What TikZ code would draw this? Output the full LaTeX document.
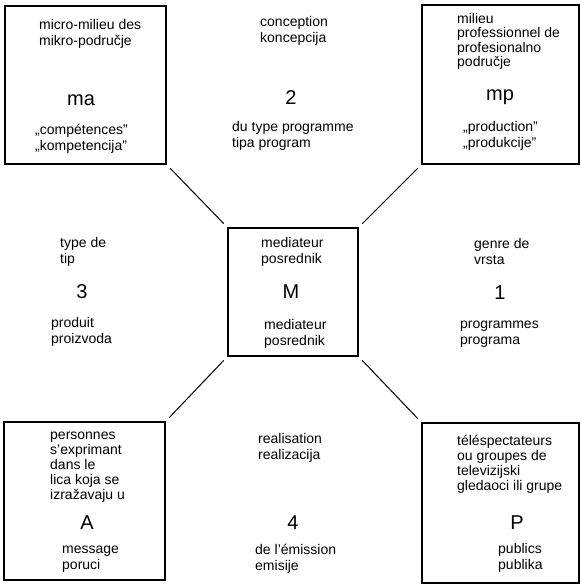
\documentclass[tikz,border=0pt]{standalone}
\usepackage{fontspec}
\setmainfont{Liberation Sans}

\tikzset{
  box/.style={draw, line width=1.6pt, inner sep=0pt},
  lbl/.style={inner sep=0pt, anchor=west, align=left, font=\fontsize{14}{16}\selectfont},
  big/.style={inner sep=0pt, font=\fontsize{20}{24}\selectfont},
  link/.style={line width=1pt, shorten <=5pt, shorten >=5pt}
}

\begin{document}
\begin{tikzpicture}[x=1pt, y=-1pt]
    \useasboundingbox (0,0) rectangle (581,586);

    % les cinq cadres
    \node[box, minimum width=161pt, minimum height=158pt] (ma) at (85.5,85) {};
    \node[box, minimum width=157pt, minimum height=159pt] (mp) at (500.5,84.5) {};
    \node[box, minimum width=130pt, minimum height=128pt] (M) at (293,292) {};
    \node[box, minimum width=161pt, minimum height=158pt] (A) at (84.5,501) {};
    \node[box, minimum width=157pt, minimum height=160pt] (P) at (500.5,503) {};

    % liens vers le centre
    \draw[link] (ma.south east) -- (M.north west);
    \draw[link] (mp.south west) -- (M.north east);
    \draw[link] (A.north east) -- (M.south west);
    \draw[link] (P.north west) -- (M.south east);

    % ma
    \node[lbl] (ma-top) at (39,33.5) {micro-milieu des\\mikro-područje};
    \node[big] (ma-sym) at (81,100) {ma};
    \node[lbl] (ma-bot) at (35,138.5) {„compétences"\\„kompetencija"};

    % 2
    \node[lbl] (n2-top) at (260,30.5) {conception\\koncepcija};
    \node[big] (n2-sym) at (291,98) {2};
    \node[lbl] (n2-bot) at (232,136) {du type programme\\tipa program};

    % mp
    \node[lbl, font=\fontsize{14}{14.5}\selectfont] (mp-top) at (457,41.5) {milieu\\professionnel de\\profesionalno\\područje};
    \node[big] (mp-sym) at (500,97) {mp};
    \node[lbl] (mp-bot) at (463,135.5) {„production"\\„produkcije"};

    % 3
    \node[lbl] (n3-top) at (60,251.5) {type de\\tip};
    \node[big] (n3-sym) at (82,292) {3};
    \node[lbl] (n3-bot) at (51,331.5) {produit\\proizvoda};

    % M
    \node[lbl] (M-top) at (261,251.5) {mediateur\\posrednik};
    \node[big] (M-sym) at (291,292) {M};
    \node[lbl] (M-bot) at (264,333.5) {mediateur\\posrednik};

    % 1
    \node[lbl] (n1-top) at (474,251.5) {genre de\\vrsta};
    \node[big] (n1-sym) at (500,293) {1};
    \node[lbl] (n1-bot) at (460,334) {programmes\\programa};

    % A
    \node[lbl, font=\fontsize{14}{15}\selectfont] (A-top) at (50,467) {personnes\\s'exprimant\\dans le\\lica koja se\\izražavaju u};
    \node[big] (A-sym) at (87,523) {A};
    \node[lbl] (A-bot) at (62,559.5) {message\\poruci};

    % 4
    \node[lbl] (n4-top) at (258,447.5) {realisation\\realizacija};
    \node[big] (n4-sym) at (293,523) {4};
    \node[lbl] (n4-bot) at (255,558.5) {de l'émission\\emisije};

    % P
    \node[lbl, font=\fontsize{14}{15}\selectfont] (P-top) at (457,464) {téléspectateurs\\ou groupes de\\televizijski\\gledaoci ili grupe};
    \node[big] (P-sym) at (517,523) {P};
    \node[lbl] (P-bot) at (498,557.5) {publics\\publika};
\end{tikzpicture}
\end{document}
